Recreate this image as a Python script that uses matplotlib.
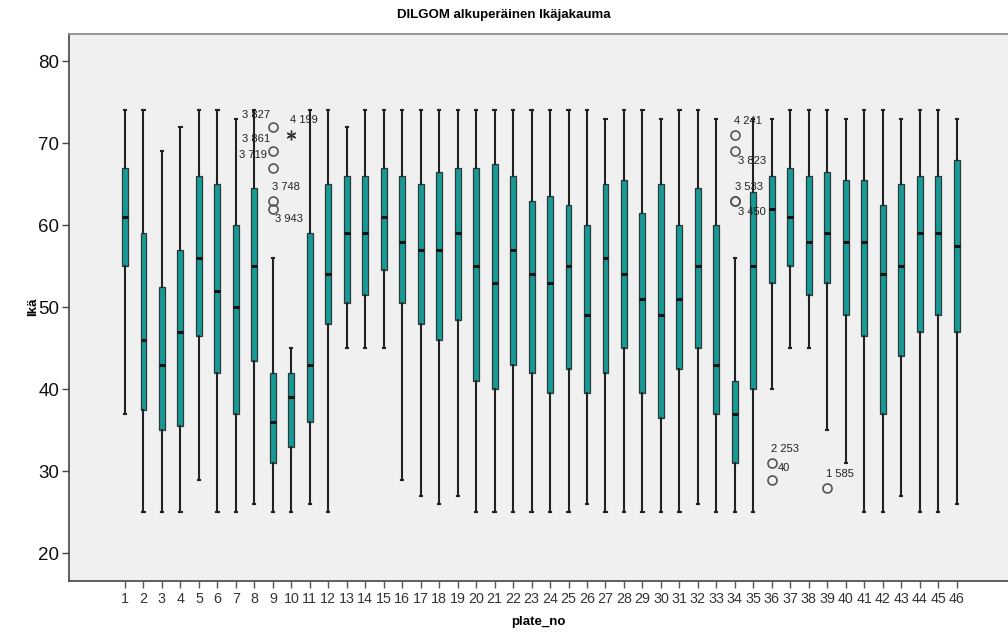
import matplotlib.pyplot as plt
import numpy as np

plt.rcParams['font.family'] = ['Liberation Sans', 'DejaVu Sans']

# five-number summaries per plate (age, years)
plates = list(range(1, 47))
whis_hi = [74, 74, 69, 72, 74, 74, 73, 74, 56, 45, 74, 74, 72, 74, 74, 74,
           74, 74, 74, 74, 74, 74, 74, 74, 74, 74, 73, 74, 74, 73, 74, 74,
           73, 56, 73, 73, 74, 74, 74, 73, 74, 74, 73, 74, 74, 73]
q3 = [67, 59, 52.5, 57, 66, 65, 60, 64.5, 42, 42, 59, 65, 66, 66, 67, 66,
      65, 66.5, 67, 67, 67.5, 66, 63, 63.5, 62.5, 60, 65, 65.5, 61.5, 65, 60, 64.5,
      60, 41, 64, 66, 67, 66, 66.5, 65.5, 65.5, 62.5, 65, 66, 66, 68]
median = [61, 46, 43, 47, 56, 52, 50, 55, 36, 39, 43, 54, 59, 59, 61, 58,
          57, 57, 59, 55, 53, 57, 54, 53, 55, 49, 56, 54, 51, 49, 51, 55,
          43, 37, 55, 62, 61, 58, 59, 58, 58, 54, 55, 59, 59, 57.5]
q1 = [55, 37.5, 35, 35.5, 46.5, 42, 37, 43.5, 31, 33, 36, 48, 50.5, 51.5, 54.5, 50.5,
      48, 46, 48.5, 41, 40, 43, 42, 39.5, 42.5, 39.5, 42, 45, 39.5, 36.5, 42.5, 45,
      37, 31, 40, 53, 55, 51.5, 53, 49, 46.5, 37, 44, 47, 49, 47]
whis_lo = [37, 25, 25, 25, 29, 25, 25, 26, 25, 25, 26, 25, 45, 45, 45, 29,
           27, 26, 27, 25, 25, 25, 25, 25, 25, 26, 25, 25, 25, 25, 25, 26,
           25, 25, 25, 40, 45, 45, 35, 31, 25, 25, 27, 25, 25, 26]

# outliers (circles) and extremes (stars): plate, value, case label
outlier_plate = [9, 9, 9, 9, 9, 34, 34, 34, 34, 36, 36, 39]
outlier_value = [72, 69, 67, 63, 62, 71, 69, 63, 63, 31, 29, 28]
outlier_label = ['3 827', '3 861', '3 719', '3 748', '3 943',
                 '4 241', '3 823', '3 533', '3 450', '2 253', '40', '1 585']
extreme_plate = [10]
extreme_value = [71]
extreme_label = ['4 199']

title = 'DILGOM alkuperäinen Ikäjakauma'
ylabel = 'Ikä'
xlabel = 'plate_no'
yticks = [20, 30, 40, 50, 60, 70, 80]

stats = []
for i, p in enumerate(plates):
    fl = [v for pp, v in zip(outlier_plate, outlier_value) if pp == p]
    stats.append(dict(med=median[i], q1=q1[i], q3=q3[i],
                      whislo=whis_lo[i], whishi=whis_hi[i], fliers=fl))

W, H = 1008, 638
fig = plt.figure(figsize=(W / 100, H / 100), dpi=100)
ax = fig.add_axes([69 / W, 1 - 580.7 / H, (W - 69) / W, (580.7 - 34) / H])
ax.set_facecolor('#f0f0f0')

ax.bxp(stats, positions=plates, widths=0.32, patch_artist=True,
       capwidths=0.12, manage_ticks=False,
       boxprops=dict(facecolor='#179a95', edgecolor='#2b3a3a', linewidth=0.9),
       medianprops=dict(color='#111111', linewidth=2.2),
       whiskerprops=dict(color='#222222', linewidth=1.5),
       capprops=dict(color='#222222', linewidth=1.5),
       flierprops=dict(marker='o', markersize=6.5, markerfacecolor='none',
                       markeredgecolor='#555555', markeredgewidth=1.2))

# extreme values drawn as asterisks
ax.plot(extreme_plate, extreme_value, linestyle='none', marker=(6, 2, 0),
        markersize=7, color='#333333', markeredgewidth=1.0)

# case-number labels next to the unusual points
offsets = [(-17, 12), (-17, 12), (-20, 13), (13, 14), (16, -10),
           (13, 14), (17, -10), (14, 14), (17, -11), (13, 14), (12, 12), (13, 14)]
for p, v, lab, off in zip(outlier_plate, outlier_value, outlier_label, offsets):
    ax.annotate(lab, (p, v), xytext=off, textcoords='offset pixels',
                ha='center', va='center', fontsize=8, color='#222222')
for p, v, lab in zip(extreme_plate, extreme_value, extreme_label):
    ax.annotate(lab, (p, v), xytext=(13, 15), textcoords='offset pixels',
                ha='center', va='center', fontsize=8, color='#222222')

ax.set_xlim(-2.03, 48.78)
ax.set_ylim(16.67, 83.3)
ax.set_xticks(plates)
ax.set_xticklabels([str(p) for p in plates], fontsize=10.3, color='#333333')
ax.set_yticks(yticks)
ax.set_yticklabels([str(t) for t in yticks], fontsize=13.5, color='#111111')
ax.tick_params(axis='x', length=5, width=1, color='#555555', pad=3)
ax.tick_params(axis='y', length=5, width=1, color='#444444', pad=2)

ax.spines['right'].set_visible(False)
ax.spines['top'].set_color('#888888')
ax.spines['left'].set_color('#444444')
ax.spines['bottom'].set_color('#444444')
for s in ['top', 'left', 'bottom']:
    ax.spines[s].set_linewidth(1.2)

fig.text(0.5, 1 - 15 / H, title, ha='center', va='center',
         fontsize=9.5, fontweight='bold')
fig.text(33 / W, 1 - 307 / H, ylabel, ha='center', va='center', rotation=90,
         fontsize=9.5, fontweight='bold')
fig.text(538 / W, 1 - 622 / H, xlabel, ha='center', va='center',
         fontsize=9.5, fontweight='bold')

fig.savefig('out.png', dpi=100)
